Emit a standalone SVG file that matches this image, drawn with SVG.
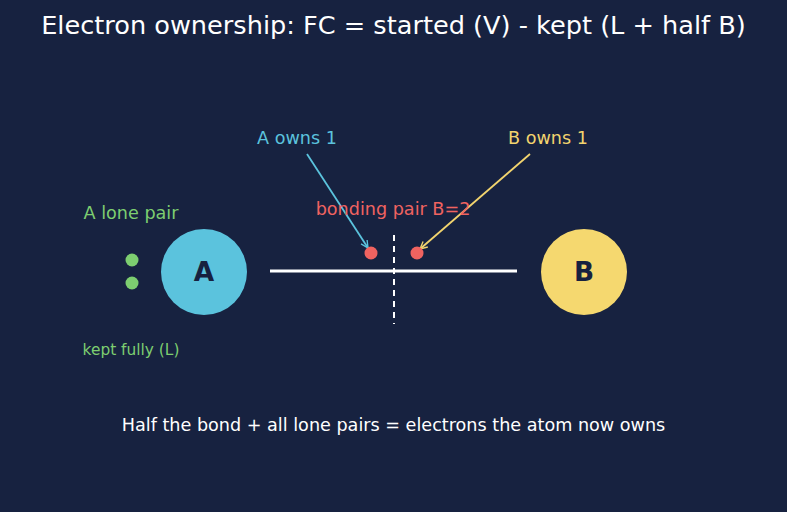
<svg xmlns="http://www.w3.org/2000/svg" width="787" height="512" viewBox="0 0 787 512">
<style>
text{font-family:"DejaVu Sans",sans-serif}
.t{font-size:25.6px;fill:#ffffff}
.lbl{font-size:17.6px}
.atom{font-size:26.4px;font-weight:bold;fill:#17213f}
</style>
<defs>
<marker id="ac" viewBox="0 0 10 10" refX="9" refY="5" markerWidth="9" markerHeight="9" orient="auto" markerUnits="userSpaceOnUse"><path d="M1,1 L9,5 L1,9" fill="none" stroke="#5bc3dd" stroke-width="1.5"/></marker>
<marker id="ay" viewBox="0 0 10 10" refX="9" refY="5" markerWidth="9" markerHeight="9" orient="auto" markerUnits="userSpaceOnUse"><path d="M1,1 L9,5 L1,9" fill="none" stroke="#f2d46e" stroke-width="1.5"/></marker>
</defs>
<rect width="787" height="512" fill="#172240"/>
<text class="t" x="393.5" y="34" text-anchor="middle">Electron ownership: FC = started (V) - kept (L + half B)</text>
<g id="connectors">
<line x1="270" y1="271" x2="517" y2="271" stroke="#ffffff" stroke-width="3"/>
<line x1="394" y1="235" x2="394" y2="324" stroke="#ffffff" stroke-width="2" stroke-dasharray="6,5"/>
<line x1="307" y1="154" x2="368" y2="248" stroke="#5bc3dd" stroke-width="1.8" marker-end="url(#ac)"/>
<line x1="530" y1="154" x2="420" y2="249" stroke="#f2d46e" stroke-width="1.8" marker-end="url(#ay)"/>
</g>
<g id="atomA">
<circle cx="204" cy="272" r="43" fill="#5bc3dd"/>
<text class="atom" x="204" y="281" text-anchor="middle">A</text>
</g>
<g id="atomB">
<circle cx="584" cy="272" r="43" fill="#f5d86f"/>
<text class="atom" x="584" y="281" text-anchor="middle">B</text>
</g>
<g id="lonepair">
<circle cx="132" cy="260" r="6.5" fill="#7dce70"/>
<circle cx="132" cy="283" r="6.5" fill="#7dce70"/>
<text class="lbl" x="131" y="219" text-anchor="middle" fill="#7dce70">A lone pair</text>
<text x="131" y="355" text-anchor="middle" fill="#7dce70" font-size="15.4">kept fully (L)</text>
</g>
<g id="bondpair">
<circle cx="371" cy="253" r="6.5" fill="#f06360"/>
<circle cx="417" cy="253" r="6.5" fill="#f06360"/>
<text class="lbl" x="393" y="215" text-anchor="middle" fill="#f06360">bonding pair B=2</text>
</g>
<g id="labels">
<text class="lbl" x="297" y="144" text-anchor="middle" fill="#5bc3dd">A owns 1</text>
<text class="lbl" x="548" y="144" text-anchor="middle" fill="#f2d46e">B owns 1</text>
<text class="lbl" x="393.5" y="431" text-anchor="middle" fill="#ffffff">Half the bond + all lone pairs = electrons the atom now owns</text>
</g>
</svg>
